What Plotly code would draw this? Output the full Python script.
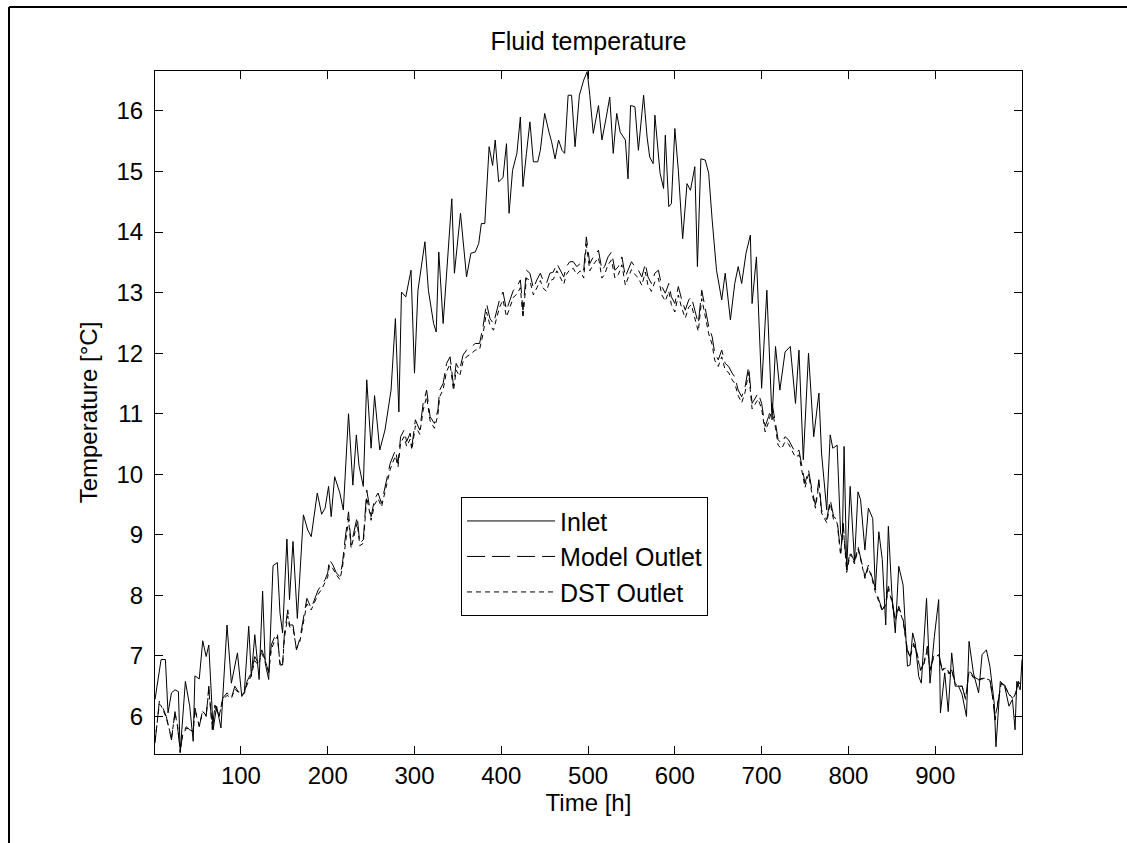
import plotly.graph_objects as go

# Inlet fluid temperature
inlet_hours = [
    1, 8, 13, 16, 20, 24, 28, 30, 36, 41,
    45, 47, 52, 56, 60, 63, 68, 72, 77, 84,
    89, 96, 101, 104, 109, 112, 116, 121, 125, 128,
    132, 137, 142, 145, 148, 153, 156, 160, 165, 172,
    177, 181, 188, 193, 197, 201, 204, 208, 214, 218,
    224, 229, 233, 236, 241, 245, 250, 254, 260, 266,
    273, 278, 282, 285, 290, 296, 300, 304, 312, 316,
    322, 325, 328, 333, 343, 346, 353, 360, 365, 370,
    374, 377, 381, 386, 390, 393, 397, 402, 406, 409,
    413, 418, 422, 425, 429, 433, 437, 442, 445, 450,
    455, 458, 462, 466, 470, 473, 477, 481, 485, 490,
    495, 499, 502, 506, 512, 516, 521, 525, 529, 533,
    537, 543, 546, 549, 554, 558, 564, 568, 571, 575,
    577, 583, 587, 589, 593, 596, 600, 604, 609, 614,
    618, 623, 626, 630, 635, 639, 643, 648, 654, 658,
    664, 669, 673, 677, 682, 687, 689, 694, 700, 706,
    712, 716, 721, 727, 733, 739, 743, 748, 754, 760,
    766, 769, 775, 779, 782, 787, 791, 793, 795, 798,
    802, 807, 811, 814, 819, 823, 828, 831, 835, 839,
    843, 846, 850, 854, 858, 863, 868, 871, 874, 877,
    881, 884, 890, 894, 899, 904, 906, 911, 915, 919,
    923, 927, 931, 936, 939, 944, 950, 954, 959, 963,
    968, 970, 975, 980, 985, 989, 992, 994, 998, 1000,
]
inlet_temp = [
    6.28, 6.94, 6.94, 6.06, 6.39, 6.44, 6.41, 5.40, 6.58, 6.17,
    5.59, 6.67, 6.62, 7.25, 6.99, 7.18, 5.78, 6.17, 5.81, 7.51,
    6.55, 7.05, 6.33, 6.41, 7.49, 6.66, 7.35, 6.61, 8.07, 6.88,
    6.61, 8.49, 8.54, 7.71, 7.38, 8.93, 7.93, 8.89, 7.62, 9.33,
    9.08, 8.97, 9.69, 9.34, 9.44, 9.80, 9.30, 9.96, 9.69, 9.41,
    11.00, 9.82, 10.65, 10.15, 9.80, 11.56, 10.43, 11.30, 10.40, 10.73,
    11.39, 12.57, 11.03, 13.01, 12.93, 13.37, 11.67, 13.04, 13.84, 13.04,
    12.49, 12.35, 13.67, 12.49, 14.55, 13.32, 14.31, 13.26, 13.65, 13.67,
    13.81, 14.14, 14.14, 15.41, 15.10, 15.52, 14.83, 14.90, 15.46, 14.31,
    15.02, 15.30, 15.90, 14.75, 15.30, 15.82, 15.16, 15.16, 15.35, 15.96,
    15.65, 15.49, 15.21, 15.52, 15.35, 15.30, 16.26, 16.26, 15.41, 16.26,
    16.51, 16.65, 16.26, 15.63, 16.09, 15.52, 15.90, 16.23, 15.30, 15.96,
    15.65, 15.52, 14.88, 16.09, 16.07, 15.35, 16.26, 15.57, 15.24, 15.13,
    15.93, 14.97, 14.72, 15.60, 14.42, 14.47, 15.71, 15.02, 13.89, 14.80,
    14.69, 15.08, 13.43, 15.21, 15.19, 14.97, 14.20, 13.37, 12.88, 13.32,
    12.55, 13.15, 13.43, 13.15, 13.65, 13.95, 12.82, 13.59, 11.42, 13.04,
    10.90, 12.11, 11.39, 12.02, 12.11, 11.17, 12.05, 10.24, 12.00, 10.62,
    11.34, 10.35, 9.41, 10.65, 10.43, 10.48, 9.03, 8.92, 10.46, 8.42,
    9.80, 8.56, 9.71, 9.58, 8.75, 9.44, 9.27, 8.09, 9.05, 8.59,
    7.51, 9.14, 8.04, 7.38, 8.48, 8.17, 6.83, 6.85, 7.38, 7.21,
    6.66, 6.55, 7.95, 6.55, 7.32, 7.93, 6.06, 6.72, 6.08, 7.05,
    6.50, 6.50, 6.36, 6.00, 7.24, 6.72, 6.39, 7.02, 7.10, 6.83,
    6.22, 5.50, 6.58, 6.50, 6.17, 6.28, 5.78, 6.58, 6.44, 6.94,
]

# Outlet temperatures (model and DST share the time stamps)
outlet_hours = [
    1, 6, 8, 14, 20, 24, 27, 30, 33, 37,
    41, 45, 47, 52, 56, 60, 63, 67, 70, 75,
    79, 84, 89, 93, 97, 101, 104, 107, 112, 116,
    120, 124, 128, 132, 135, 139, 142, 145, 148, 150,
    154, 156, 160, 164, 168, 172, 176, 181, 185, 189,
    193, 197, 200, 202, 206, 210, 214, 217, 220, 224,
    227, 231, 234, 237, 241, 245, 250, 254, 258, 262,
    266, 272, 275, 278, 281, 284, 288, 291, 295, 297,
    301, 306, 310, 314, 318, 323, 327, 329, 333, 337,
    341, 345, 348, 352, 356, 360, 366, 370, 375, 379,
    383, 387, 391, 395, 398, 402, 406, 410, 414, 418,
    422, 425, 429, 433, 437, 441, 445, 448, 452, 456,
    460, 464, 468, 472, 475, 479, 483, 487, 491, 495,
    498, 502, 506, 512, 516, 519, 523, 527, 531, 535,
    539, 543, 546, 550, 554, 558, 562, 566, 569, 573,
    577, 581, 585, 589, 593, 596, 600, 604, 608, 612,
    616, 619, 623, 627, 631, 635, 639, 643, 646, 650,
    654, 658, 662, 666, 669, 673, 677, 681, 685, 689,
    693, 696, 700, 704, 708, 712, 716, 719, 723, 727,
    731, 735, 739, 743, 746, 750, 754, 758, 762, 766,
    769, 775, 779, 783, 787, 791, 794, 798, 802, 807,
    811, 814, 819, 823, 827, 831, 835, 839, 843, 846,
    850, 854, 858, 863, 868, 871, 875, 879, 883, 887,
    891, 894, 898, 904, 908, 912, 916, 919, 923, 927,
    931, 935, 939, 944, 950, 954, 959, 963, 966, 969,
    973, 976, 980, 984, 989, 993, 996, 1000,
]
model_outlet = [
    5.56, 6.25, 6.22, 6.00, 5.61, 6.08, 5.83, 5.42, 5.72, 5.83,
    5.78, 5.75, 6.14, 5.83, 6.11, 6.00, 6.50, 5.78, 6.19, 6.00,
    6.30, 6.39, 6.30, 6.50, 6.41, 6.39, 6.39, 6.58, 6.72, 6.99,
    6.88, 7.10, 6.94, 6.72, 7.18, 7.32, 7.38, 6.85, 6.85, 7.35,
    7.76, 7.51, 7.51, 7.10, 7.29, 7.65, 7.95, 7.79, 7.93, 8.09,
    8.17, 8.26, 8.37, 8.59, 8.50, 8.37, 8.31, 8.53, 8.92, 9.38,
    8.83, 9.11, 9.30, 8.86, 8.92, 9.74, 9.30, 9.59, 9.69, 9.52,
    9.80, 10.18, 10.29, 10.40, 10.18, 10.62, 10.73, 10.54, 10.68, 10.46,
    10.90, 10.73, 11.17, 11.39, 10.95, 10.84, 11.06, 11.39, 11.50, 11.83,
    11.94, 11.45, 11.83, 11.72, 11.97, 12.05, 12.11, 12.16, 12.16, 12.44,
    12.82, 12.57, 12.49, 12.71, 12.88, 13.01, 12.71, 12.88, 13.04, 13.10,
    13.21, 12.71, 13.37, 13.32, 13.07, 13.21, 13.32, 13.21, 13.15, 13.32,
    13.34, 13.48, 13.37, 13.26, 13.43, 13.51, 13.51, 13.43, 13.48, 13.37,
    13.92, 13.48, 13.59, 13.70, 13.37, 13.43, 13.59, 13.67, 13.37, 13.43,
    13.59, 13.26, 13.37, 13.51, 13.43, 13.37, 13.26, 13.48, 13.26, 13.15,
    13.32, 13.37, 13.10, 12.99, 13.15, 12.93, 12.82, 13.10, 12.88, 12.71,
    12.88, 12.93, 12.71, 12.49, 13.04, 12.71, 12.44, 12.27, 12.00, 11.89,
    12.05, 11.83, 11.78, 11.67, 11.61, 11.39, 11.28, 11.45, 11.78, 11.17,
    11.28, 11.34, 11.17, 10.79, 10.95, 11.17, 10.84, 10.57, 10.51, 10.62,
    10.57, 10.46, 10.35, 10.40, 10.18, 9.85, 10.07, 9.74, 9.49, 9.91,
    9.41, 9.25, 9.58, 9.30, 9.25, 8.70, 9.19, 8.42, 8.72, 8.56,
    8.81, 8.64, 8.31, 8.50, 8.31, 8.09, 7.93, 7.76, 7.87, 8.15,
    7.93, 7.60, 7.82, 7.60, 7.10, 6.99, 7.21, 7.05, 6.77, 6.88,
    7.16, 6.77, 6.99, 7.05, 6.77, 6.83, 6.72, 6.77, 6.55, 6.50,
    6.50, 6.28, 6.77, 6.66, 6.61, 6.63, 6.63, 6.61, 6.33, 5.94,
    6.28, 6.55, 6.52, 6.39, 6.28, 6.39, 6.58, 6.50,
]
dst_outlet = [
    5.60, 6.20, 6.18, 5.98, 5.65, 6.05, 5.85, 5.45, 5.70, 5.80,
    5.80, 5.74, 6.10, 5.85, 6.08, 6.02, 6.44, 5.82, 6.15, 6.02,
    6.26, 6.35, 6.30, 6.45, 6.40, 6.36, 6.38, 6.52, 6.68, 6.92,
    6.85, 7.04, 6.92, 6.74, 7.10, 7.26, 7.32, 6.88, 6.84, 7.28,
    7.66, 7.48, 7.46, 7.12, 7.24, 7.58, 7.86, 7.76, 7.88, 8.02,
    8.10, 8.20, 8.30, 8.50, 8.44, 8.34, 8.26, 8.46, 8.82, 9.26,
    8.78, 9.02, 9.20, 8.82, 8.86, 9.62, 9.24, 9.50, 9.60, 9.46,
    9.72, 10.08, 10.20, 10.30, 10.12, 10.52, 10.62, 10.46, 10.58, 10.40,
    10.80, 10.66, 11.06, 11.28, 10.88, 10.76, 10.98, 11.28, 11.40, 11.70,
    11.82, 11.38, 11.72, 11.62, 11.86, 11.94, 12.00, 12.05, 12.06, 12.32,
    12.68, 12.46, 12.38, 12.58, 12.76, 12.88, 12.60, 12.76, 12.92, 12.98,
    13.08, 12.58, 13.24, 13.20, 12.96, 13.08, 13.20, 13.08, 13.02, 13.20,
    13.22, 13.36, 13.24, 13.14, 13.30, 13.38, 13.40, 13.30, 13.36, 13.24,
    13.80, 13.36, 13.46, 13.58, 13.24, 13.30, 13.46, 13.54, 13.24, 13.30,
    13.46, 13.12, 13.24, 13.38, 13.30, 13.24, 13.12, 13.34, 13.12, 13.02,
    13.18, 13.24, 12.96, 12.86, 13.02, 12.80, 12.68, 12.96, 12.74, 12.58,
    12.76, 12.80, 12.58, 12.36, 12.90, 12.58, 12.32, 12.14, 11.88, 11.78,
    11.94, 11.72, 11.68, 11.56, 11.50, 11.30, 11.18, 11.36, 11.68, 11.08,
    11.18, 11.24, 11.08, 10.70, 10.86, 11.08, 10.76, 10.48, 10.42, 10.54,
    10.50, 10.38, 10.28, 10.32, 10.10, 9.78, 10.00, 9.68, 9.44, 9.84,
    9.36, 9.20, 9.52, 9.24, 9.20, 8.66, 9.14, 8.38, 8.68, 8.52,
    8.76, 8.60, 8.28, 8.46, 8.28, 8.06, 7.90, 7.74, 7.84, 8.10,
    7.90, 7.58, 7.78, 7.58, 7.08, 6.98, 7.18, 7.02, 6.76, 6.86,
    7.12, 6.76, 6.96, 7.02, 6.76, 6.80, 6.70, 6.76, 6.54, 6.50,
    6.50, 6.30, 6.74, 6.64, 6.60, 6.62, 6.62, 6.60, 6.34, 5.98,
    6.30, 6.54, 6.50, 6.40, 6.30, 6.40, 6.56, 6.50,
]

x_ticks = [100, 200, 300, 400, 500, 600, 700, 800, 900]
y_ticks = [6, 7, 8, 9, 10, 11, 12, 13, 14, 15, 16]

assert len(inlet_hours) == len(inlet_temp)
assert len(outlet_hours) == len(model_outlet) == len(dst_outlet)

FONT = "Liberation Sans, Arial, Helvetica, sans-serif"

fig = go.Figure()
fig.add_trace(go.Scatter(x=inlet_hours, y=inlet_temp, mode="lines", name="Inlet",
                         legendgroup="a", line=dict(color="black", width=1)))
fig.add_trace(go.Scatter(x=outlet_hours, y=model_outlet, mode="lines", name="Model Outlet",
                         legendgroup="b", line=dict(color="black", width=1, dash="18px,7px")))
fig.add_trace(go.Scatter(x=outlet_hours, y=dst_outlet, mode="lines", name="DST Outlet",
                         legendgroup="c", line=dict(color="black", width=1, dash="5px,4px")))

axis_common = dict(
    showline=True, linecolor="black", linewidth=1, mirror="ticks",
    ticks="inside", ticklen=8, tickcolor="black", tickwidth=1,
    showgrid=False, zeroline=False, automargin=False,
    tickfont=dict(family=FONT, size=24, color="black"),
)

# outer figure border (only the top and left edges are inside the image)
frame_x = -146 / 867
frame_y = 1 + 64 / 683
frame_line = dict(color="black", width=2)

fig.update_layout(
    width=1127, height=843,
    paper_bgcolor="white", plot_bgcolor="white",
    margin=dict(l=155, r=105, t=71, b=89),
    font=dict(family=FONT, color="black"),
    title=dict(text="Fluid temperature", x=0.5, xref="paper", xanchor="center",
               y=1 - 50 / 843, yanchor="bottom", font=dict(size=25)),
    xaxis=dict(axis_common, range=[1, 1000], tickvals=x_ticks,
               title=dict(text="Time [h]", font=dict(size=24), standoff=4)),
    yaxis=dict(axis_common, range=[5.38, 16.66], tickvals=y_ticks, ticklabelstandoff=6,
               title=dict(text="Temperature [°C]", font=dict(size=24), standoff=12)),
    legend=dict(x=0.353, y=0.376, xanchor="left", yanchor="top",
                bgcolor="white", bordercolor="black", borderwidth=1,
                font=dict(family=FONT, size=25, color="black"),
                itemwidth=88, tracegroupgap=0),
    showlegend=True,
    shapes=[
        dict(type="line", xref="paper", yref="paper", x0=frame_x, x1=1.5,
             y0=frame_y, y1=frame_y, line=frame_line, layer="below"),
        dict(type="line", xref="paper", yref="paper", x0=frame_x, x1=frame_x,
             y0=-0.5, y1=frame_y, line=frame_line, layer="below"),
    ],
)

fig.write_html(
    "out.html", config={"displayModeBar": False},
    post_script=("document.documentElement.style.overflow='hidden';"
                 "document.body.style.overflow='hidden';"
                 "document.body.style.margin='0';"),
)
